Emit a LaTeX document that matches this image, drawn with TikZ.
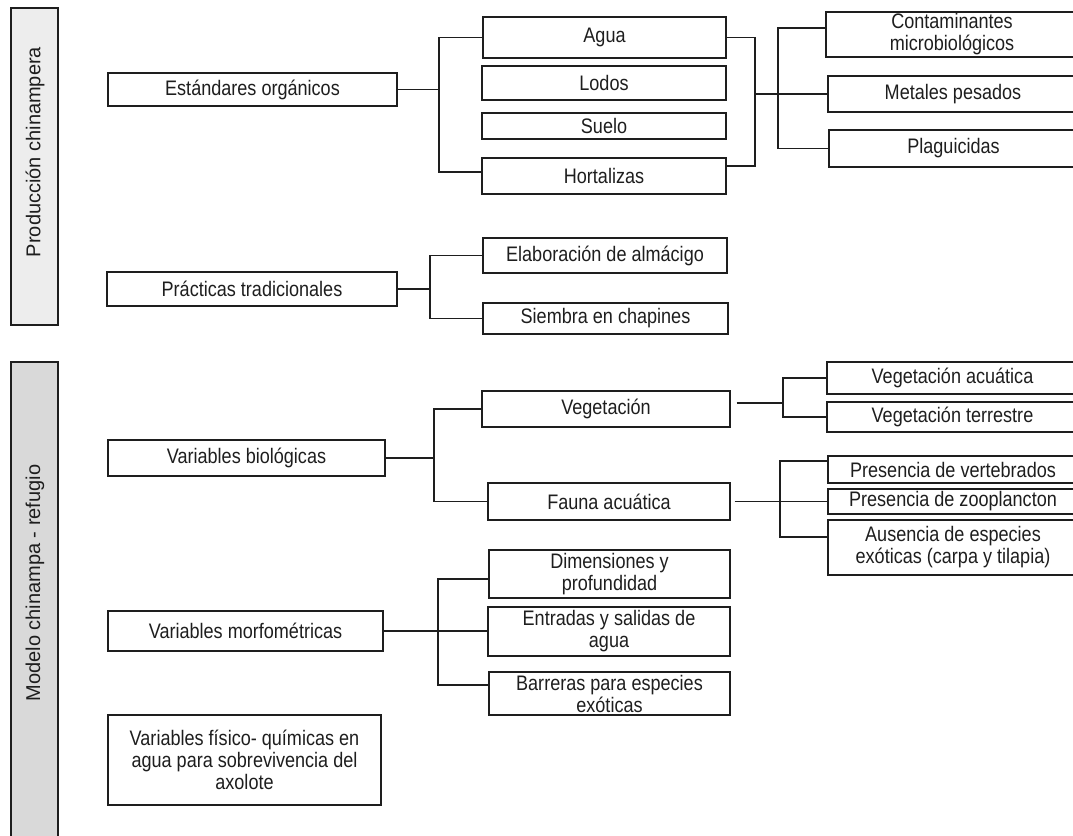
\documentclass[tikz,border=0pt]{standalone}
\usepackage{fontspec}
\newfontfamily\boxfont{Liberation Sans}[FakeStretch=0.86]
\newfontfamily\sidefont{Liberation Sans}
\usetikzlibrary{calc}
\definecolor{ink}{HTML}{1E1E1E}
\tikzset{
  box/.style={draw=ink, line width=1.3pt, fill=white, inner sep=0pt, align=center,
    text=ink, font=\boxfont\fontsize{21}{22}\selectfont},
  conn/.style={draw=ink, line width=1.3pt},
  sideA/.style={draw=ink, line width=1.3pt, inner sep=0pt,
    left color=gray!14, middle color=gray!4, right color=gray!14},
  sideB/.style={draw=ink, line width=1.3pt, inner sep=0pt,
    left color=gray!30, middle color=gray!12, right color=gray!30},
  sidetext/.style={rotate=90, text=ink, font=\sidefont\fontsize{20}{22}\selectfont, inner sep=0pt}
}
\begin{document}
\begin{tikzpicture}[x=1pt,y=-1pt]
\useasboundingbox[fill=white] (0,0) rectangle (1073,835);

% side bands
\node[sideA, minimum width=47, minimum height=317] (s1) at (34.5,166.5) {};
\node[sidetext] (t1) at (35,152) {Producción chinampera};
\node[sideB, minimum width=47, minimum height=478] (s2) at (34.5,601) {};
\node[sidetext] (t2) at (35,583) {Modelo chinampa - refugio};

% section 1
\node[box, minimum width=289, minimum height=33] (est) at (252.5,89.5) {Estándares orgánicos};
\node[box, minimum width=243, minimum height=41] (agua) at (604.5,37.5) {Agua};
\node[box, minimum width=244, minimum height=34] (lodos) at (604,83) {Lodos};
\node[box, minimum width=244, minimum height=26] (suelo) at (604,126) {Suelo};
\node[box, minimum width=244, minimum height=36] (hort) at (604,176) {Hortalizas};
\node[box, minimum width=252, minimum height=45] (cont) at (952,34.5) {Contaminantes\\microbiológicos};
\node[box, minimum width=250, minimum height=36] (met) at (953,94) {Metales pesados};
\node[box, minimum width=249, minimum height=37] (plag) at (953.5,148.5) {Plaguicidas};

\node[box, minimum width=290, minimum height=34] (prac) at (252,289) {Prácticas tradicionales};
\node[box, minimum width=244, minimum height=35] (elab) at (605,255.5) {Elaboración de almácigo};
\node[box, minimum width=245, minimum height=31] (siem) at (605.5,318.5) {Siembra en chapines};

% section 2
\node[box, minimum width=277, minimum height=36] (vbio) at (246.5,458) {Variables biológicas};
\node[box, minimum width=248, minimum height=36] (veg) at (606,409) {Vegetación};
\node[box, minimum width=242, minimum height=37] (fauna) at (609,501.5) {Fauna acuática};
\node[box, minimum width=251, minimum height=32] (vac) at (952.5,378) {Vegetación acuática};
\node[box, minimum width=251, minimum height=30] (vte) at (952.5,417) {Vegetación terrestre};
\node[box, minimum width=250, minimum height=27] (vert) at (953,469.5) {Presencia de vertebrados};
\node[box, minimum width=250, minimum height=25] (zoo) at (953,501.5) {Presencia de zooplancton};
\node[box, minimum width=250, minimum height=55] (aus) at (953,547.5) {Ausencia de especies\\exóticas (carpa y tilapia)};

\node[box, minimum width=275, minimum height=40] (vmor) at (245.5,631) {Variables morfométricas};
\node[box, minimum width=241, minimum height=48] (dim) at (609.5,574) {Dimensiones y\\profundidad};
\node[box, minimum width=242, minimum height=49] (ent) at (609,631.5) {Entradas y salidas de\\agua};
\node[box, minimum width=241, minimum height=43] (bar) at (609.5,693.5) {Barreras para especies\\exóticas};

\node[box, minimum width=273, minimum height=90] (fis) at (244.5,760) {Variables físico- químicas en\\agua para sobrevivencia del\\axolote};

% junctions
\coordinate (j1) at (439,89.5);
\coordinate (j2) at (755,94);
\coordinate (j3) at (778,94);
\coordinate (j4) at (430,289);
\coordinate (j5) at (434,458);
\coordinate (j6) at (783,403);
\coordinate (j7) at (780,502);
\coordinate (j8) at (438,631);

% connectors section 1
\draw[conn] (est.east) -- (j1);
\draw[conn] (agua.west) -| (j1) |- ([yshift=4pt]hort.west);
\draw[conn] (agua.east) -| (j2) |- ([yshift=10pt]hort.east);
\draw[conn] (j2) -- (met.west);
\draw[conn] ([yshift=6.5pt]cont.west) -| (j3) |- (plag.west);
\draw[conn] (prac.east) -- (j4);
\draw[conn] (elab.west) -| (j4) |- (siem.west);

% connectors section 2
\draw[conn] (vbio.east) -- (j5);
\draw[conn] (veg.west) -| (j5) |- (fauna.west);
\draw[conn] ([xshift=6pt,yshift=6pt]veg.east) -- (j6);
\draw[conn] (vac.west) -| (j6) |- (vte.west);
\draw[conn] ([xshift=4pt]fauna.east) -- (zoo.west);
\draw[conn] ([yshift=8.5pt]vert.west) -| (j7) |- ([yshift=10.5pt]aus.west);
\draw[conn] (vmor.east) -- (vmor.east -| ent.west);
\draw[conn] ([yshift=-5pt]dim.west) -| (j8) |- ([yshift=8.5pt]bar.west);
\end{tikzpicture}
\end{document}
